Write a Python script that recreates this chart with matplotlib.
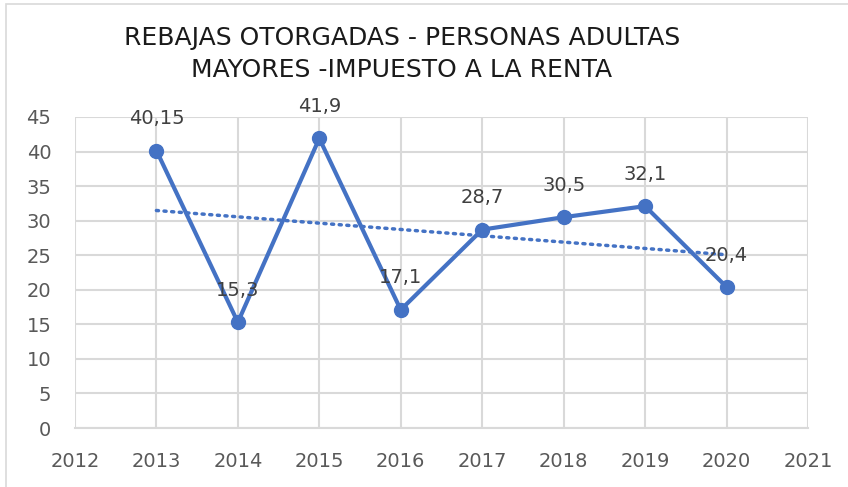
import matplotlib
matplotlib.use("Agg")
import matplotlib.pyplot as plt
import numpy as np
from matplotlib.patches import Rectangle

years = [2013, 2014, 2015, 2016, 2017, 2018, 2019, 2020]
values = [40.15, 15.3, 41.9, 17.1, 28.7, 30.5, 32.1, 20.4]
labels = ["40,15", "15,3", "41,9", "17,1", "28,7", "30,5", "32,1", "20,4"]
title_lines = ["REBAJAS OTORGADAS - PERSONAS ADULTAS", "MAYORES -IMPUESTO A LA RENTA"]

plt.rcParams['font.family'] = ["DejaVu Sans"]

fig = plt.figure(figsize=(8.48, 4.87), dpi=100)
ax = fig.add_axes([0.0884, 0.1211, 0.8644, 0.6387])

blue = "#4472C4"
ax.plot(years, values, color=blue, lw=3, marker='o', markersize=10, zorder=3)

coef = np.polyfit(years, values, 1)
trend = np.polyval(coef, years)
ax.plot([years[0], years[-1]], [trend[0], trend[-1]], color=blue, lw=2.5,
        linestyle=(0, (0.6, 1.6)), dash_capstyle='round', zorder=2)

for x, y, t in zip(years, values, labels):
    ax.annotate(t, (x, y), xytext=(0, 23), textcoords='offset points',
                ha='center', va='center', fontsize=14, color='#404040', zorder=4)

ax.set_xlim(2012, 2021)
ax.set_ylim(0, 45)
ax.set_xticks(range(2012, 2022))
ax.set_yticks(range(0, 50, 5))
ax.grid(True, color='#d9d9d9', lw=1.5)
ax.set_axisbelow(True)
for s in ['top', 'right', 'left']:
    ax.spines[s].set_visible(False)
ax.spines['bottom'].set_color('#d9d9d9')
ax.spines['bottom'].set_linewidth(1.5)
ax.tick_params(length=0, labelsize=14, colors='#595959')
ax.tick_params(axis='x', pad=17)
ax.tick_params(axis='y', pad=17)

fig.text(0.474, 0.922, title_lines[0], ha='center', va='center', fontsize=18, color='#1a1a1a')
fig.text(0.474, 0.857, title_lines[1], ha='center', va='center', fontsize=18, color='#1a1a1a')

fig.patches.append(Rectangle((6/848, -0.01), 1.0, 1 - 4/487 + 0.01, transform=fig.transFigure,
                             fill=False, edgecolor='#d9d9d9', lw=1.2))

fig.savefig("out.png", dpi=100)
